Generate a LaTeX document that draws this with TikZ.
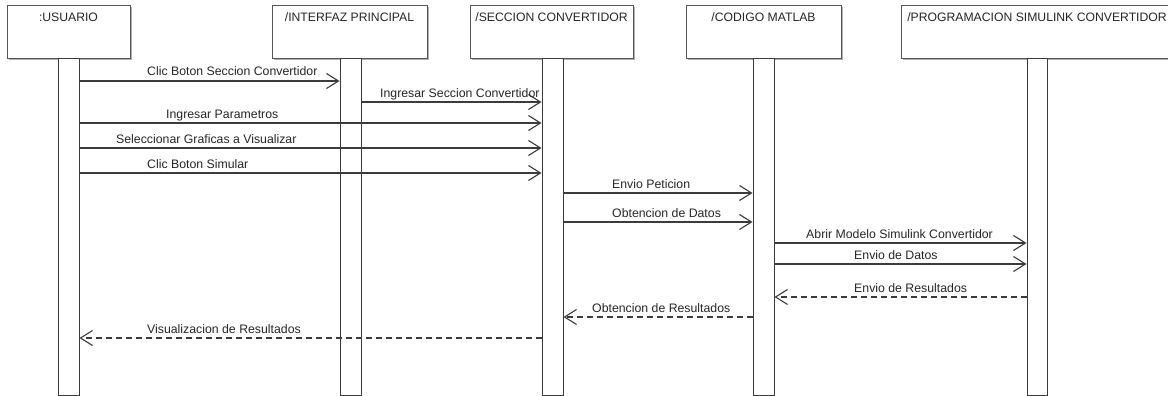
\documentclass[tikz,border=0pt]{standalone}
\usepackage{fontspec}
\setmainfont{Liberation Sans}
\usetikzlibrary{arrows.meta,calc}
\definecolor{linegray}{HTML}{3C3C3C}
\definecolor{boxgray}{HTML}{555555}
\definecolor{shadowgray}{HTML}{B0B0B0}
\tikzset{
  head/.style={draw=boxgray, line width=1pt, fill=white, minimum height=53pt, inner sep=0pt},
  headtext/.style={anchor=base, font=\fontsize{12.2}{14}\selectfont, text=black!85, inner sep=0pt},
  lifebar/.style={draw=linegray, line width=1pt, fill=white, minimum width=21pt, minimum height=336pt, inner sep=0pt},
  msglabel/.style={anchor=base west, font=\fontsize{12.3}{14}\selectfont, text=black!85, inner sep=0pt},
  msg/.style={draw=linegray, line width=1.1pt, -{Straight Barb[length=12pt,width=15pt,line width=1.1pt]}},
  reply/.style={msg, dash pattern=on 6pt off 4pt}
}
\begin{document}
\begin{tikzpicture}[x=1pt,y=-1pt]
  \useasboundingbox (0,0) rectangle (1168,396);
  \clip (0,0) rectangle (1168,396);

  % object heads (with a light drop shadow)
  \foreach \cx/\w in {68.5/123, 349.5/155, 551.5/163, 763.5/155, 1037/272}
    \fill[shadowgray] (\cx-\w/2+1.5, 7.5) rectangle (\cx+\w/2+1.5, 60.5);
  \node[head, minimum width=123pt] (hu) at (68.5,32.5) {};
  \node[head, minimum width=155pt] (hi) at (349.5,32.5) {};
  \node[head, minimum width=163pt] (hs) at (551.5,32.5) {};
  \node[head, minimum width=155pt] (hc) at (763.5,32.5) {};
  \node[head, minimum width=272pt] (hp) at (1037,32.5) {};

  \node[headtext] (tu) at (68.5,22) {:USUARIO};
  \node[headtext] (ti) at (349.5,22) {/INTERFAZ PRINCIPAL};
  \node[headtext] (ts) at (551.5,22) {/SECCION CONVERTIDOR};
  \node[headtext] (tc) at (763.5,22) {/CODIGO MATLAB};
  \node[headtext] (tp) at (1037,22) {/PROGRAMACION SIMULINK CONVERTIDOR};

  % activation bars
  \node[lifebar] (bu) at (68.5,227) {};
  \node[lifebar] (bi) at (350.5,227) {};
  \node[lifebar] (bs) at (552.5,227) {};
  \node[lifebar] (bc) at (763.5,227) {};
  \node[lifebar, minimum width=20pt] (bp) at (1037,227) {};

  % messages
  \draw[msg] (bu.east |- 0,81) -- (bi.west |- 0,81);
  \node[msglabel] (m1) at (147,76) {Clic Boton Seccion Convertidor};

  \draw[msg] (bi.east |- 0,102) -- (bs.west |- 0,102);
  \node[msglabel] (m2) at (380,97) {Ingresar Seccion Convertidor};

  \draw[msg] (bu.east |- 0,123) -- (bs.west |- 0,123);
  \node[msglabel] (m3) at (166,118) {Ingresar Parametros};

  \draw[msg] (bu.east |- 0,148) -- (bs.west |- 0,148);
  \node[msglabel] (m4) at (116,143) {Seleccionar Graficas a Visualizar};

  \draw[msg] (bu.east |- 0,173) -- (bs.west |- 0,173);
  \node[msglabel] (m5) at (147,168) {Clic Boton Simular};

  \draw[msg] (bs.east |- 0,193) -- (bc.west |- 0,193);
  \node[msglabel] (m6) at (612,188) {Envio Peticion};

  \draw[msg] (bs.east |- 0,222) -- (bc.west |- 0,222);
  \node[msglabel] (m7) at (612,217) {Obtencion de Datos};

  \draw[msg] (bc.east |- 0,243) -- (bp.west |- 0,243);
  \node[msglabel] (m8) at (806,238) {Abrir Modelo Simulink Convertidor};

  \draw[msg] (bc.east |- 0,264) -- (bp.west |- 0,264);
  \node[msglabel] (m9) at (854,259) {Envio de Datos};

  % replies
  \draw[reply] (bp.west |- 0,297) -- (bc.east |- 0,297);
  \node[msglabel] (m10) at (854,292) {Envio de Resultados};

  \draw[reply] (bc.west |- 0,317) -- (bs.east |- 0,317);
  \node[msglabel] (m11) at (592,312) {Obtencion de Resultados};

  \draw[reply] (bs.west |- 0,338) -- (bu.east |- 0,338);
  \node[msglabel] (m12) at (147,333) {Visualizacion de Resultados};
\end{tikzpicture}
\end{document}
